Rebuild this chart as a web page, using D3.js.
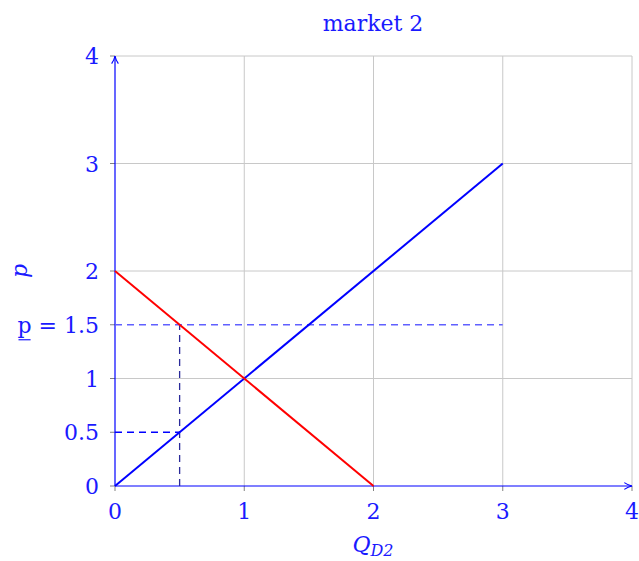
<!DOCTYPE html>
<html><head><meta charset="utf-8">
<script src="https://cdn.jsdelivr.net/npm/d3@7"></script>
<style>body{margin:0;background:#fff}text{font-family:"DejaVu Serif","Liberation Serif",serif;fill:#1a1aff}</style>
</head><body>
<svg id="c" width="639" height="561"></svg>
<script>
const xTicks = [0, 1, 2, 3, 4];
const yTicks = [0, 0.5, 1, 1.5, 2, 3, 4];
const yTickLabels = ["0", "0.5", "1", "p = 1.5", "2", "3", "4"];
const gridX = [1, 2, 3, 4];
const gridY = [1, 2, 3, 4];
const supplyX = [0, 3];
const supplyY = [0, 3];
const demandX = [0, 2];
const demandY = [2, 0];
const guideH15 = [[0, 1.5], [3, 1.5]];
const guideH05 = [[0, 0.5], [0.5, 0.5]];
const guideV05 = [[0.5, 0], [0.5, 1.5]];

const svg = d3.select("#c");
const x = d3.scaleLinear().domain([0, 4]).range([115, 632]);
const y = d3.scaleLinear().domain([0, 4]).range([486, 56]);
const blue = "#0000ff";
const FS = 22;

// grid
svg.append("g").selectAll("line").data(gridX).join("line")
  .attr("x1", d => x(d)).attr("x2", d => x(d)).attr("y1", y(0)).attr("y2", y(4))
  .attr("stroke", "#c8c8c8").attr("stroke-width", 1);
svg.append("g").selectAll("line").data(gridY).join("line")
  .attr("x1", x(0)).attr("x2", x(4)).attr("y1", d => y(d)).attr("y2", d => y(d))
  .attr("stroke", "#c8c8c8").attr("stroke-width", 1);

// tick marks (outside, gray)
svg.append("g").selectAll("line").data(xTicks).join("line")
  .attr("x1", d => x(d)).attr("x2", d => x(d)).attr("y1", y(0)).attr("y2", y(0) + 5)
  .attr("stroke", "#808080");
svg.append("g").selectAll("line").data(yTicks).join("line")
  .attr("x1", x(0) - 5).attr("x2", x(0)).attr("y1", d => y(d)).attr("y2", d => y(d))
  .attr("stroke", "#808080");

// axes with arrows
const defs = svg.append("defs");
defs.append("marker").attr("id", "arr").attr("viewBox", "0 0 10 10").attr("refX", 9).attr("refY", 5)
  .attr("markerWidth", 8).attr("markerHeight", 8).attr("orient", "auto")
  .append("path").attr("d", "M1,1.5 Q5,4.2 9,5 Q5,5.8 1,8.5").attr("fill", "none").attr("stroke", blue).attr("stroke-width", 1.2);
svg.append("line").attr("x1", x(0)).attr("x2", x(4)).attr("y1", y(0)).attr("y2", y(0))
  .attr("stroke", blue).attr("stroke-width", 1.2).attr("marker-end", "url(#arr)");
svg.append("line").attr("x1", x(0)).attr("x2", x(0)).attr("y1", y(0)).attr("y2", y(4))
  .attr("stroke", blue).attr("stroke-width", 1.2).attr("marker-end", "url(#arr)");

// tick labels
svg.append("g").selectAll("text").data(xTicks).join("text")
  .attr("x", d => x(d)).attr("y", y(0) + 33).attr("text-anchor", "middle")
  .attr("font-size", FS).text(d => d);
const ylg = svg.append("g");
yTicks.forEach((d, i) => {
  const lab = yTickLabels[i];
  const t = ylg.append("text").attr("x", x(0) - 16).attr("y", y(d) + 8)
    .attr("text-anchor", "end").attr("font-size", FS).text(lab);
  if (lab.startsWith("p")) {
    const node = t.node();
    const s = node.getStartPositionOfChar(0);
    const e = node.getEndPositionOfChar(0);
    ylg.append("line").attr("x1", s.x + 1).attr("x2", e.x - 1)
      .attr("y1", y(d) + 15).attr("y2", y(d) + 15)
      .attr("stroke", "#1a1aff").attr("stroke-width", 1.2);
  }
});

// line generator
const line = d3.line().x(d => x(d[0])).y(d => y(d[1]));

// guides
svg.append("path").attr("d", line(guideH15)).attr("fill", "none").attr("stroke", "#6060ff")
  .attr("stroke-width", 1.3).attr("stroke-dasharray", "7,5");
svg.append("path").attr("d", line(guideH05)).attr("fill", "none").attr("stroke", blue)
  .attr("stroke-width", 1.3).attr("stroke-dasharray", "7,5");
svg.append("path").attr("d", line(guideV05)).attr("fill", "none").attr("stroke", "#2a2a9a")
  .attr("stroke-width", 1.3).attr("stroke-dasharray", "7,5");

// curves
svg.append("path").attr("d", line(supplyX.map((v, i) => [v, supplyY[i]])))
  .attr("fill", "none").attr("stroke", blue).attr("stroke-width", 2);
svg.append("path").attr("d", line(demandX.map((v, i) => [v, demandY[i]])))
  .attr("fill", "none").attr("stroke", "#ff0000").attr("stroke-width", 2);

// title & labels
svg.append("text").attr("x", 373).attr("y", 31).attr("text-anchor", "middle").attr("font-size", FS).text("market 2");
const xl = svg.append("text").attr("x", 373).attr("y", 552).attr("text-anchor", "middle").attr("font-size", FS);
xl.append("tspan").attr("font-style", "italic").text("Q");
xl.append("tspan").attr("font-style", "italic").attr("font-size", 16).attr("dy", 4).text("D2");
svg.append("text").attr("transform", "translate(27,271) rotate(-90)").attr("text-anchor", "middle")
  .attr("font-size", FS).attr("font-style", "italic").text("p");
</script>
</body></html>
